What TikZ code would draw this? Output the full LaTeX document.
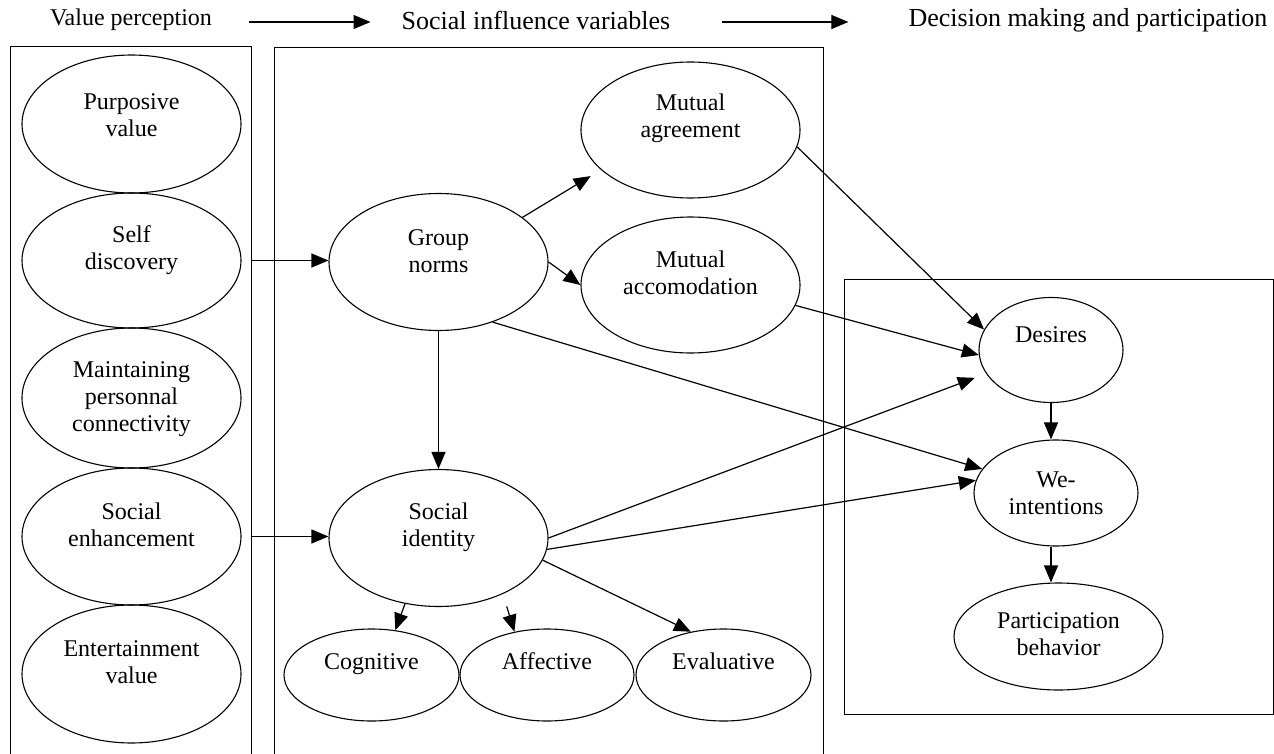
\documentclass[tikz,border=0pt]{standalone}
\usepackage{fontspec}
\setmainfont{Liberation Serif}
\usetikzlibrary{shapes.geometric,arrows.meta}
\begin{document}
\begin{tikzpicture}[x=1pt,y=-1pt,
  frame/.style={draw, line width=1.3pt, inner sep=0pt, anchor=north west},
  oval/.style={draw, ellipse, line width=1.1pt, inner sep=0pt},
  lbl/.style={font=\fontsize{24}{27}\selectfont, align=center, inner sep=0pt},
  word/.style={font=\fontsize{24}{27}\selectfont, inner sep=0pt, anchor=base},
  arr/.style={line width=1.2pt, -{Triangle[length=17pt,width=14pt]}},
]
\useasboundingbox (0,0) rectangle (1274,754);

% column headings
\node[font=\fontsize{24}{27}\selectfont, inner sep=0pt] (h1) at (131,20) {Value perception};
\node[font=\fontsize{26}{29}\selectfont, inner sep=0pt] (h2) at (536,20) {Social influence variables};
\node[font=\fontsize{26}{29}\selectfont, inner sep=0pt] (h3) at (1088,20) {Decision making and participation};
\draw[arr] ([xshift=37pt,yshift=-2pt]h1.east) -- ([xshift=-31pt,yshift=-2pt]h2.west);
\draw[arr] ([xshift=52pt,yshift=-2pt]h2.east) -- ([xshift=-60pt,yshift=-2pt]h3.west);

% group frames (the two left frames run past the lower edge)
\node[frame, minimum width=241pt, minimum height=730pt] (lbox) at (10,46) {};
\node[frame, minimum width=549pt, minimum height=730pt] (mbox) at (274,47) {};
\node[frame, minimum width=429pt, minimum height=435pt] (rbox) at (844,279) {};

% value perception
\node[oval, minimum width=219pt, minimum height=138pt] (pv) at (131.5,124) {};
\node[oval, minimum width=219pt, minimum height=135pt] (sd) at (131.5,260.5) {};
\node[oval, minimum width=219pt, minimum height=140pt] (mp) at (131.5,398) {};
\node[oval, minimum width=219pt, minimum height=137pt] (se) at (131.5,536.5) {};
\node[oval, minimum width=219pt, minimum height=138pt] (ev) at (131.5,674) {};
\node[lbl] (pv-t) at ([yshift=9pt]pv.center) {Purposive\\value};
\node[lbl] (sd-t) at ([yshift=10pt]sd.center) {Self\\discovery};
\node[lbl] (mp-t) at ([yshift=-1pt]mp.center) {Maintaining\\personnal\\connectivity};
\node[lbl] (se-t) at ([yshift=12pt]se.center) {Social\\enhancement};
\node[lbl] (ev-t) at ([yshift=12pt]ev.center) {Entertainment\\value};

% social influence variables
\node[oval, minimum width=219pt, minimum height=137pt] (gn) at (438.5,262) {};
\node[oval, minimum width=219pt, minimum height=136pt] (ma) at (690.5,130) {};
\node[oval, minimum width=219pt, minimum height=136pt] (mac) at (690.5,285) {};
\node[oval, minimum width=219pt, minimum height=137pt] (si) at (438.5,538) {};
\node[oval, minimum width=175pt, minimum height=92pt] (cog) at (371.5,675) {};
\node[oval, minimum width=174pt, minimum height=92pt] (aff) at (547,675) {};
\node[oval, minimum width=175pt, minimum height=92pt] (eva) at (723.5,675) {};
\node[lbl] (gn-t) at ([yshift=11pt]gn.center) {Group\\norms};
\node[lbl] (ma-t) at ([yshift=12pt]ma.center) {Mutual\\agreement};
\node[lbl] (mac-t) at ([yshift=12pt]mac.center) {Mutual\\accomodation};
\node[lbl] (si-t) at ([yshift=11pt]si.center) {Social\\identity};
\node[word] (cog-t) at ([yshift=6pt]cog.center) {Cognitive};
\node[word] (aff-t) at ([yshift=6pt]aff.center) {Affective};
\node[word] (eva-t) at ([yshift=6pt]eva.center) {Evaluative};

% decision making and participation
\node[oval, minimum width=144pt, minimum height=105pt] (des) at (1051,350) {};
\node[oval, minimum width=164pt, minimum height=106pt] (wi) at (1056,493) {};
\node[oval, minimum width=209pt, minimum height=107pt] (pb) at (1058.5,636.5) {};
\node[word] (des-t) at ([yshift=8pt]des.center) {Desires};
\node[lbl] (wi-t) at (wi.center) {We-\\intentions};
\node[lbl] (pb-t) at ([yshift=2pt]pb.center) {Participation\\behavior};

% connectors
\draw[arr] (sd -| lbox.east) -- (sd -| gn.west);
\draw[arr] (se -| lbox.east) -- (se -| si.west);
\draw[arr, shorten >=12pt] (gn.28) -- (ma.204);
\draw[arr] (gn.east) -- (mac.west);
\draw[arr] (gn.south) -- (si.north);
\draw[arr] (gn.-48) -- (wi.162);
\draw[arr] (ma.-9) -- (des.163);
\draw[arr] (mac.-11) -- (des.184);
\draw[arr, shorten >=12pt] (si.east) -- (des.200);
\draw[arr] (si.-6) -- (wi.171);
\draw[arr] (si.-117) -- (cog.62);
\draw[arr, shorten <=13pt] (si.-41) -- (aff.127);
\draw[arr] (si.-12) -- (eva.127);
\draw[arr] (des.south) -- (des.south |- wi.north);
\draw[arr] (des.south |- wi.south) -- (des.south |- pb.north);
\end{tikzpicture}
\end{document}
